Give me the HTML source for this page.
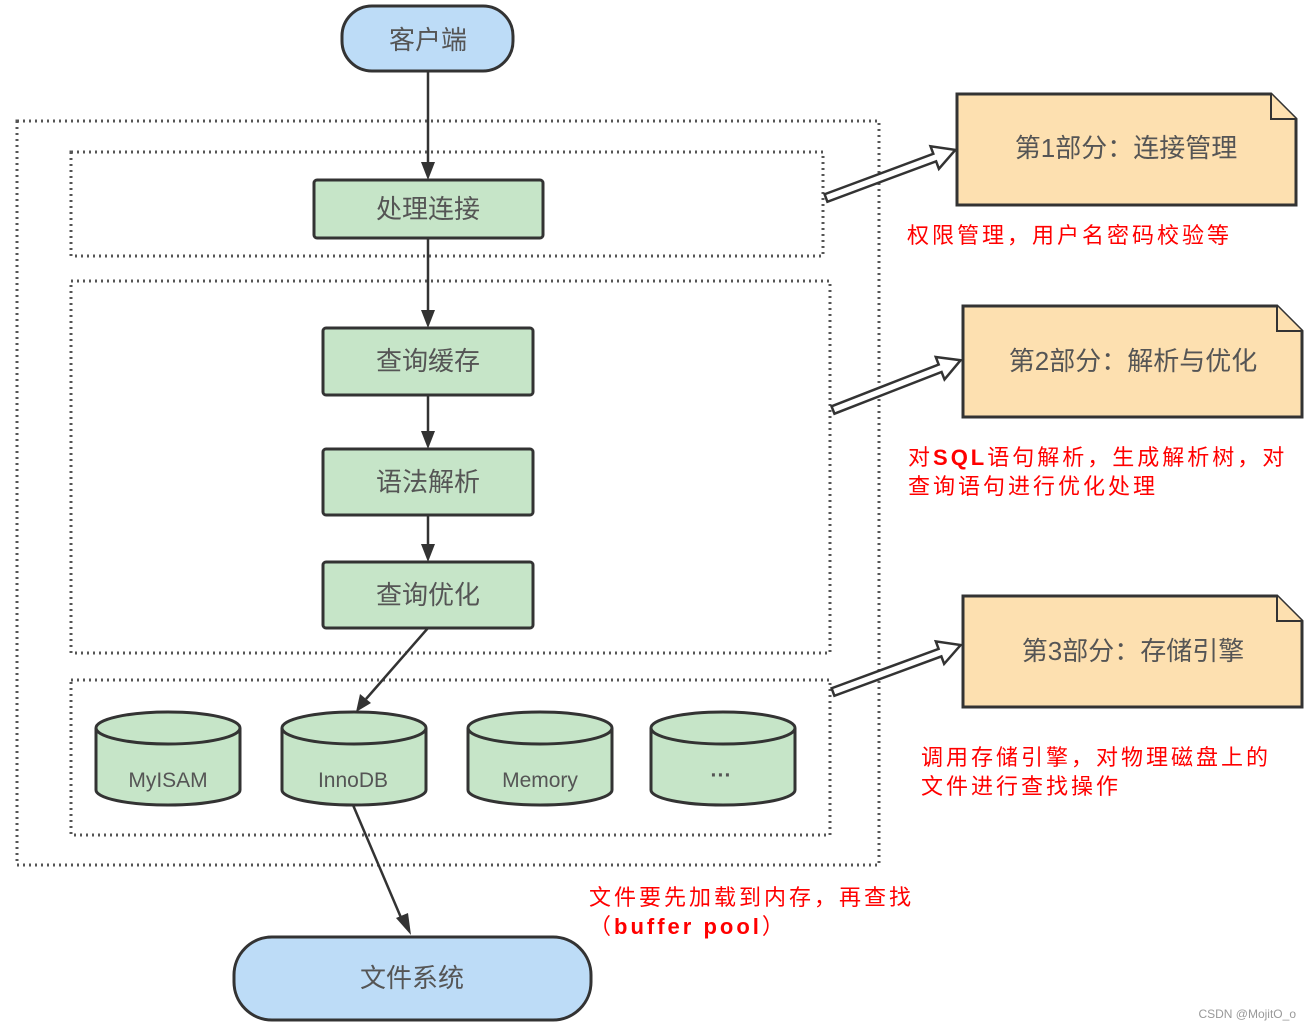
<!DOCTYPE html>
<html><head><meta charset="utf-8"><style>
body{margin:0;background:#fff}
svg text{font-family:"Liberation Sans","Noto Sans CJK SC",sans-serif}
</style></head><body>
<svg width="1312" height="1030" viewBox="0 0 1312 1030" xmlns="http://www.w3.org/2000/svg">
<g fill="none" stroke="#555" stroke-width="3" stroke-dasharray="2,4">
<rect x="17" y="121" width="862" height="744"/>
<rect x="71" y="152" width="752" height="104"/>
<rect x="71" y="281" width="759" height="372"/>
<rect x="71" y="680" width="759" height="155"/>
</g>
<g stroke="#333" stroke-width="2.5" fill="none">
<line x1="428" y1="71" x2="428" y2="165"/>
<line x1="428" y1="238" x2="428" y2="313"/>
<line x1="428" y1="395" x2="428" y2="434"/>
<line x1="428" y1="515" x2="428" y2="547"/>
<line x1="428" y1="628" x2="366" y2="699"/>
<line x1="353" y1="805" x2="402" y2="920"/>
</g>
<g fill="#333">
<polygon points="421,162 435,162 428,180"/>
<polygon points="421,310 435,310 428,328"/>
<polygon points="421,431 435,431 428,449"/>
<polygon points="421,544 435,544 428,562"/>
<polygon points="360,694 371,703 356,712"/>
<polygon points="396,918 408,913 411,935"/>
</g>
<rect x="342" y="6" width="171" height="65" rx="30" fill="#bddcf7" stroke="#333" stroke-width="3"/>
<text x="428" y="49" font-size="26" fill="#555" text-anchor="middle">客户端</text>
<g fill="#c6e5c8" stroke="#333" stroke-width="3">
<rect x="314" y="180" width="229" height="58" rx="3"/>
<rect x="323" y="328" width="210" height="67" rx="3"/>
<rect x="323" y="449" width="210" height="66" rx="3"/>
<rect x="323" y="562" width="210" height="66" rx="3"/>
</g>
<g font-size="26" fill="#555" text-anchor="middle">
<text x="428" y="218">处理连接</text>
<text x="428" y="370">查询缓存</text>
<text x="428" y="491">语法解析</text>
<text x="428" y="604">查询优化</text>
</g>
<g fill="#c6e5c8" stroke="#333" stroke-width="3">
<path d="M96,728 v62 a72,15 0 0 0 144,0 v-62"/><ellipse cx="168" cy="728" rx="72" ry="16"/>
<path d="M282,728 v62 a72,15 0 0 0 144,0 v-62"/><ellipse cx="354" cy="728" rx="72" ry="16"/>
<path d="M468,728 v62 a72,15 0 0 0 144,0 v-62"/><ellipse cx="540" cy="728" rx="72" ry="16"/>
<path d="M651,728 v62 a72,15 0 0 0 144,0 v-62"/><ellipse cx="723" cy="728" rx="72" ry="16"/>
</g>
<g font-size="21" fill="#555" text-anchor="middle">
<text x="168" y="787">MyISAM</text>
<text x="353" y="787">InnoDB</text>
<text x="540" y="787">Memory</text>
<text x="721" y="782" font-weight="bold">···</text>
</g>
<rect x="234" y="937" width="357" height="83" rx="38" fill="#bddcf7" stroke="#333" stroke-width="3"/>
<text x="412" y="987" font-size="26" fill="#555" text-anchor="middle">文件系统</text>
<g fill="#fde0b0" stroke="#333" stroke-width="3">
<path d="M957,94 H1271 L1296,119 V205 H957 Z"/>
<path d="M963,306 H1277 L1302,331 V417 H963 Z"/>
<path d="M963,596 H1277 L1302,621 V707 H963 Z"/>
</g>
<g fill="#fde0b0" stroke="#333" stroke-width="2"><path d="M1271,94 V119 H1296"/><path d="M1277,306 V331 H1302"/><path d="M1277,596 V621 H1302"/></g>
<g font-size="26" fill="#555" text-anchor="middle">
<text x="1126" y="157">第1部分：连接管理</text>
<text x="1133" y="370">第2部分：解析与优化</text>
<text x="1133" y="660">第3部分：存储引擎</text>
</g>
<g fill="#fff" stroke="#333" stroke-width="2.5">
<polygon transform="translate(826,198) rotate(-20.4)" points="0,-4 116,-4 116,-12 138,0 116,12 116,4 0,4"/>
<polygon transform="translate(833,410) rotate(-21.3)" points="0,-4 115,-4 115,-12 137,0 115,12 115,4 0,4"/>
<polygon transform="translate(833,692) rotate(-20.2)" points="0,-4 114,-4 114,-12 136,0 114,12 114,4 0,4"/>
</g>
<g font-size="22" fill="#f00" letter-spacing="3">
<text x="907" y="243">权限管理，用户名密码校验等</text>
<text x="908" y="465">对<tspan font-weight="bold">SQL</tspan>语句解析，生成解析树，对</text>
<text x="908" y="494">查询语句进行优化处理</text>
<text x="921" y="765">调用存储引擎，对物理磁盘上的</text>
<text x="921" y="794">文件进行查找操作</text>
<text x="589" y="905">文件要先加载到内存，再查找</text>
<text x="589" y="934">（<tspan font-weight="bold">buffer pool</tspan>）</text>
</g>
<text x="1296" y="1018" font-size="12" fill="#999" text-anchor="end">CSDN @MojitO_o</text>
</svg>
</body></html>
